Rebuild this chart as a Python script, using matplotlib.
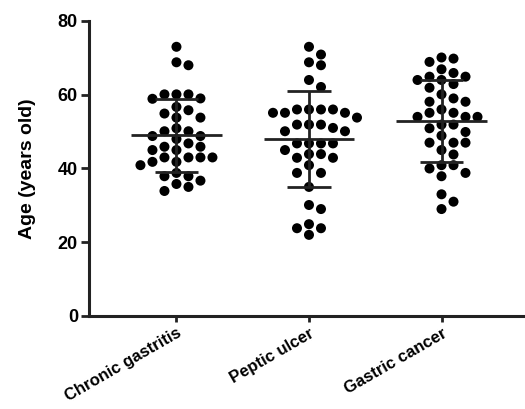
import numpy as np
import matplotlib
matplotlib.use('Agg')
import matplotlib.pyplot as plt

plt.rcParams['font.family'] = ['Liberation Sans', 'DejaVu Sans']
plt.rcParams['font.weight'] = 'bold'

# data
groups = ['Chronic gastritis', 'Peptic ulcer', 'Gastric cancer']
chronic_gastritis = [73, 68.8, 68, 60.1, 60.1, 59, 58.9, 60.1, 56.7, 55.8, 53.8, 53.8, 54.9,
                     50.9, 50.1, 50.1, 48.8, 48, 48.8, 46.8, 45.9, 45.9, 45, 45, 43, 43,
                     41.8, 41.8, 43, 43, 40.9, 38.8, 37.9, 37.9, 36.7, 35.8, 35, 33.9]
peptic_ulcer = [73, 70.9, 68.8, 68, 64, 62.1, 56, 56, 55.1, 55.1, 55.1, 56, 56, 53.8,
                51.9, 51, 51.9, 51.9, 50.1, 50.1, 46.8, 46.8, 46.8, 46.8, 45, 43.9, 42.9,
                42.9, 43.9, 40.9, 38.8, 38.8, 35, 30.1, 29, 23.8, 22, 23.8, 24.9]
gastric_cancer = [70.1, 68.9, 69.8, 66.9, 65.9, 64.9, 64.9, 64, 64, 62.9, 61.9, 60.1, 59,
                  58.1, 58.1, 56, 55.1, 54, 54, 54, 55.1, 51.9, 50.9, 51.9, 49.9, 48.9,
                  47, 47, 47, 45, 43.8, 40.9, 40, 40.9, 37.9, 38.8, 33, 31, 29]
yticks = [0, 20, 40, 60, 80]

fig = plt.figure(figsize=(5.25, 4.09), dpi=100)
ax = fig.add_axes([0.1695, 0.2274, 0.8305, 0.7213])
ax.set_xlim(-0.66, 2.63)
ax.set_ylim(0, 80)

def swarm(vals, center, d=10.5, step=6.0):
    # simple beeswarm in pixel space
    vals = np.asarray(vals, dtype=float)
    pix = ax.transData.transform(np.column_stack([np.full(len(vals), center), vals]))
    order = np.argsort(-vals)
    placed = []
    xs = np.zeros(len(vals))
    for i in order:
        y = pix[i, 1]
        for k in range(0, 40):
            cands = [0.0] if k == 0 else [k * step, -k * step]
            ok = None
            for c in cands:
                if all((c - px) ** 2 + (y - py) ** 2 >= d ** 2 for px, py in placed):
                    ok = c
                    break
            if ok is not None:
                break
        placed.append((ok, y))
        xs[i] = pix[i, 0] + ok
    back = ax.transData.inverted().transform(np.column_stack([xs, pix[:, 1]]))
    return back[:, 0]

for i, vals in enumerate([chronic_gastritis, peptic_ulcer, gastric_cancer]):
    x = swarm(vals, i)
    ax.scatter(x, vals, s=52, color='black', edgecolors='none', zorder=3)
    m = np.mean(vals)
    sd = np.std(vals, ddof=1)
    ax.hlines(m, i - 0.34, i + 0.34, color='#222222', lw=2, zorder=4)
    ax.hlines([m - sd, m + sd], i - 0.165, i + 0.165, color='#222222', lw=2, zorder=4)
    ax.vlines(i, m - sd, m + sd, color='#222222', lw=2, zorder=4)

ax.spines['top'].set_visible(False)
ax.spines['right'].set_visible(False)
for s in ['left', 'bottom']:
    ax.spines[s].set_linewidth(2.2)
    ax.spines[s].set_color('#222222')

ax.set_yticks(yticks)
ax.set_yticklabels([str(t) for t in yticks], fontsize=13, fontweight='bold')
ax.set_xticks(range(len(groups)))
ax.set_xticklabels(groups, rotation=30, ha='right', rotation_mode='anchor',
                   fontsize=12, fontweight='bold')
ax.tick_params(axis='y', length=6, width=2, color='#222222', pad=2)
ax.tick_params(axis='x', length=4, width=2, color='#222222', pad=3)
ax.set_ylabel('Age (years old)', fontsize=14, fontweight='bold', labelpad=16)

fig.savefig('out.png', dpi=100)
